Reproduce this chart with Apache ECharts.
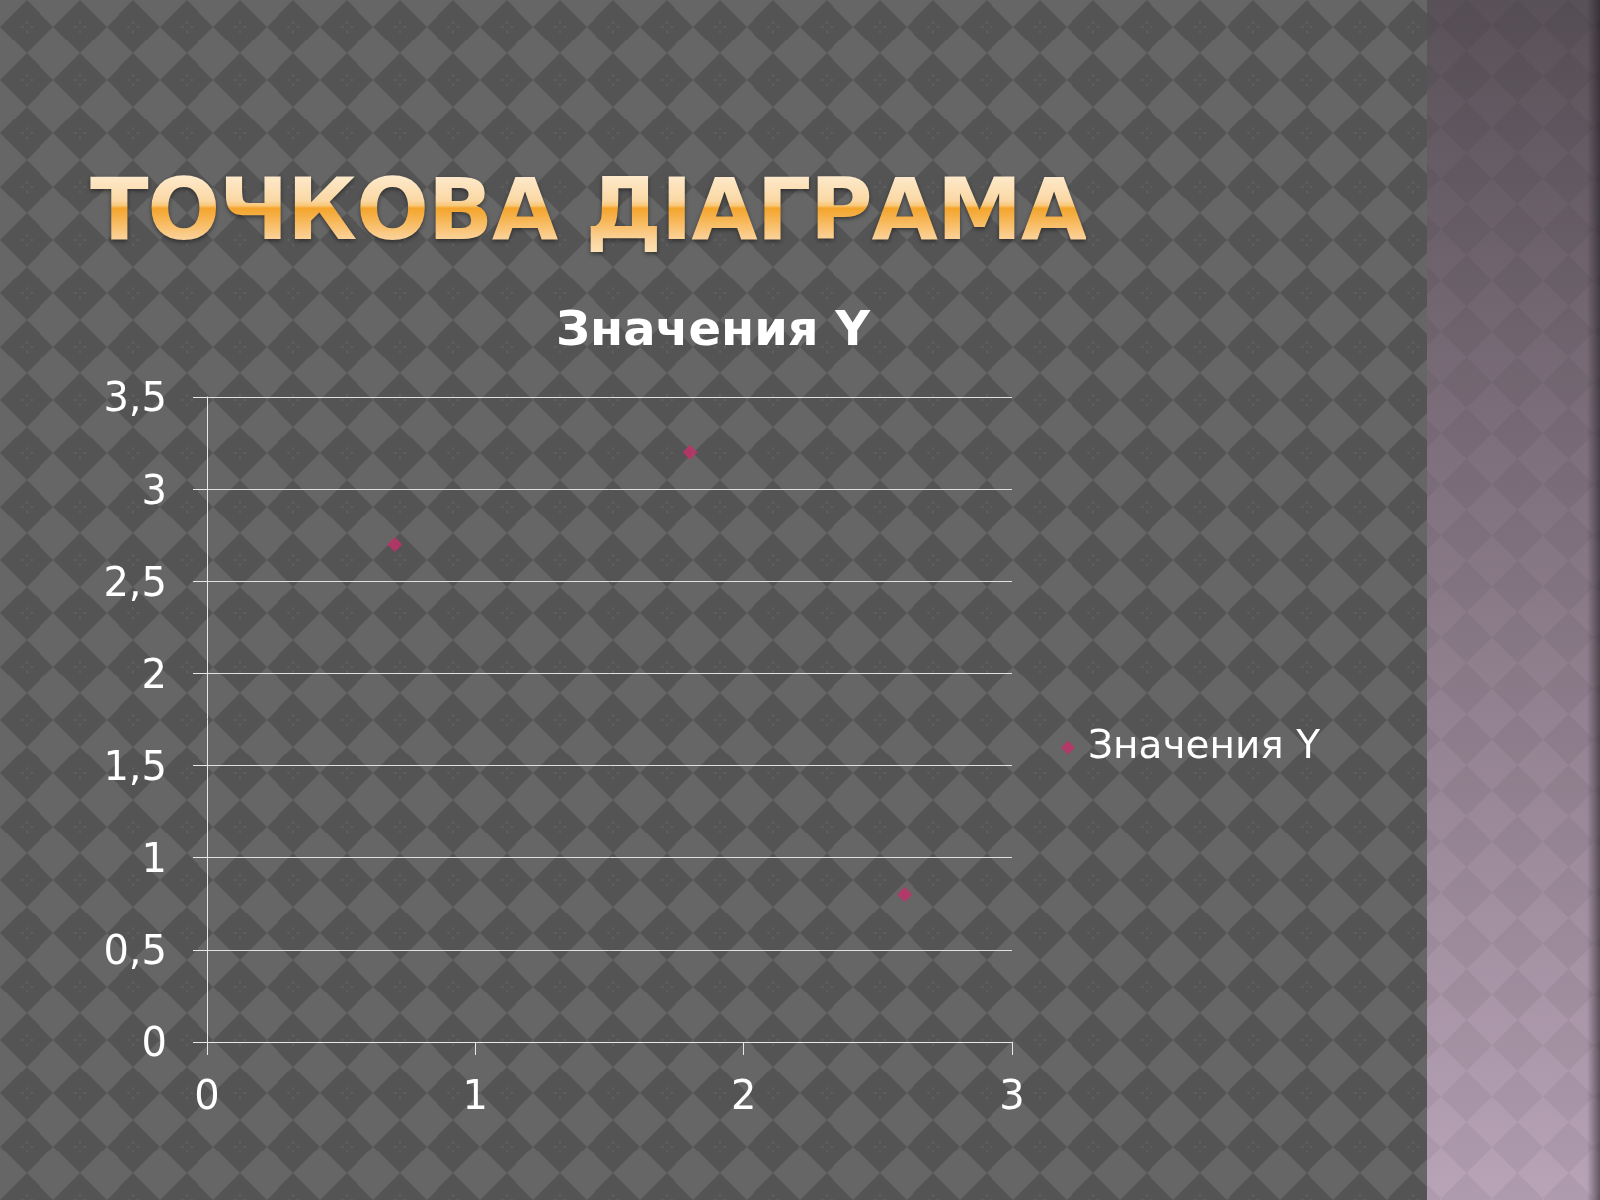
<!DOCTYPE html>
<html>
<head>
<meta charset="utf-8">
<script src="https://cdn.jsdelivr.net/npm/echarts@6/dist/echarts.min.js"></script>
<style>
  html, body { margin: 0; padding: 0; width: 1600px; height: 1200px; overflow: hidden; }
  body {
    background-color: #5e5e5e;
    background-image: url("data:image/svg+xml,%3Csvg xmlns='http://www.w3.org/2000/svg' width='53.333' height='53.333'%3E%3Crect width='53.333' height='53.333' fill='%23666666'/%3E%3Cpath d='M26.667 0L53.333 26.667L26.667 53.333L0 26.667Z' fill='%23545454'/%3E%3Cg fill='%23626262'%3E%3Crect x='25.9' y='21' width='1.6' height='2.4'/%3E%3Crect x='25.9' y='30.3' width='1.6' height='2.4'/%3E%3Crect x='21' y='25.9' width='2.4' height='1.6'/%3E%3Crect x='30.3' y='25.9' width='2.4' height='1.6'/%3E%3C/g%3E%3C/svg%3E");
    background-size: 53.333px 53.333px;
  }
  #band {
    position: absolute; left: 1427px; top: 0; width: 173px; height: 1200px;
    background-image:
      linear-gradient(to right, rgba(0,0,0,0) 0px, rgba(0,0,0,0) 160px, rgba(30,25,30,0.55) 173px),
      url("data:image/svg+xml,%3Csvg xmlns='http://www.w3.org/2000/svg' width='51' height='51'%3E%3Cpath d='M25.5 0L51 25.5L25.5 51L0 25.5Z' fill='rgba(0,0,0,0.05)'/%3E%3C/svg%3E"),
      linear-gradient(to bottom, #595158 0%, #8a7a88 50%, #b8a3b7 100%);
    background-size: 173px 1200px, 51px 51px, 173px 1200px;
    background-position: 0 0, 14px 0, 0 0;
  }
  #heading {
    position: absolute; left: 90px; top: 166px; margin: 0;
    font: bold 86px/86px "DejaVu Sans", Verdana, sans-serif;
    letter-spacing: -1.4px; white-space: nowrap;
    background: linear-gradient(to bottom, #fff3e0 0%, #fde8c8 14%, #fbd8a4 40%, #f9c878 46%, #f4a52c 49%, #f6b24c 60%, #fbd29a 85%, #fde2b4 100%);
    -webkit-background-clip: text; background-clip: text;
    color: transparent;
    filter: drop-shadow(0px 2px 2px rgba(0,0,0,0.45));
  }
  #chart { position: absolute; left: 0; top: 0; width: 1600px; height: 1200px; }
</style>
</head>
<body>
<div id="band"></div>
<div id="heading"></div>
<div id="chart"></div>
<script>
// ---- data ----
const headingText = 'ТОЧКОВА ДІАГРАМА';
const chartTitle = 'Значения Y';
const seriesName = 'Значения Y';
const xValues = [0.7, 1.8, 2.6];
const yValues = [2.7, 3.2, 0.8];
const xTicks = { min: 0, max: 3, interval: 1 };
const yTicks = { min: 0, max: 3.5, interval: 0.5 };

document.getElementById('heading').textContent = headingText;

const points = xValues.map((x, i) => [x, yValues[i]]);
const FONT = '"DejaVu Sans", Verdana, sans-serif';
const fmt = v => '{v|' + String(v).replace('.', ',') + '}';

const chart = echarts.init(document.getElementById('chart'), null, { renderer: 'canvas' });
chart.setOption({
  backgroundColor: 'transparent',
  animation: false,
  title: {
    text: chartTitle,
    left: 708,
    textAlign: 'center',
    top: 304,
    textStyle: { fontSize: 48, fontWeight: 'bold', color: '#ffffff', fontFamily: FONT }
  },
  legend: {
    data: [{ name: seriesName, icon: 'diamond' }],
    left: 1056,
    top: 723,
    orient: 'vertical',
    itemWidth: 14,
    itemHeight: 14,
    textStyle: { color: '#ffffff', fontSize: 39, fontFamily: FONT, padding: [0, 0, 0, 8] }
  },
  grid: { left: 207, right: 588, top: 397, bottom: 158, containLabel: false },
  xAxis: {
    type: 'value',
    min: xTicks.min, max: xTicks.max, interval: xTicks.interval,
    axisLine: { show: true, lineStyle: { color: '#e8e8e8', width: 1 } },
    axisTick: { show: true, length: 13, lineStyle: { color: '#e8e8e8' } },
    axisLabel: { color: '#ffffff', fontSize: 40, fontFamily: FONT, margin: 37 },
    splitLine: { show: false }
  },
  yAxis: {
    type: 'value',
    min: yTicks.min, max: yTicks.max, interval: yTicks.interval,
    axisLine: { show: true, lineStyle: { color: '#e8e8e8', width: 1 } },
    axisTick: { show: true, length: 14, lineStyle: { color: '#e8e8e8' } },
    axisLabel: {
      color: '#ffffff', fontSize: 40, fontFamily: FONT, margin: 40, formatter: fmt,
      rich: { v: { color: '#ffffff', fontSize: 40, fontFamily: FONT, padding: [8, 0, 0, 0] } }
    },
    splitLine: { show: true, lineStyle: { color: '#e0e0e0', width: 1 } }
  },
  series: [{
    name: seriesName,
    type: 'scatter',
    symbol: 'diamond',
    symbolSize: 15,
    itemStyle: { color: '#c4306a' },
    data: points
  }]
});
</script>
</body>
</html>
